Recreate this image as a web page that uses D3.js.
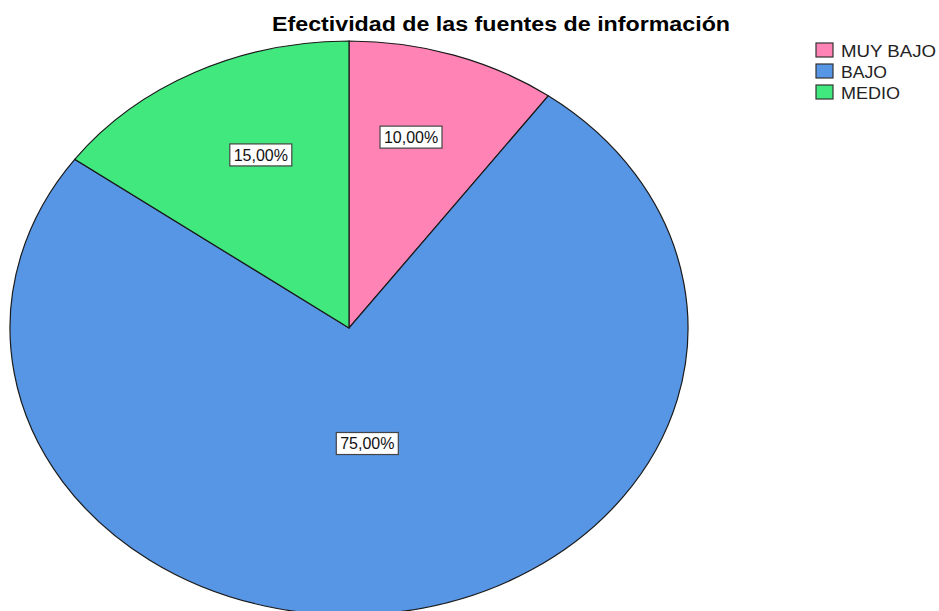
<!DOCTYPE html>
<html>
<head>
<meta charset="utf-8">
<script src="https://cdn.jsdelivr.net/npm/d3@7"></script>
<style>
  body { margin: 0; background: #fff; }
  svg { display: block; font-family: "Liberation Sans", Arial, sans-serif; }
</style>
</head>
<body>
<div id="piechart"></div>
<script>
const width = 939
const height = 611

const categories = ['MUY BAJO', 'BAJO', 'MEDIO']
const percents = [10, 75, 15]
const percentLabels = ['10,00%', '75,00%', '15,00%']
const colors = ['#ff84b5', '#5795e5', '#40e87e']

const cx = 349
const cy = 328
const rx = 339
const ry = 287

const colorScheme = d3.scaleOrdinal().domain(categories).range(colors)

const data = categories.map((c, i) => ({ label: c, value: percents[i], text: percentLabels[i] }))

const svg = d3.select('#piechart')
  .append('svg')
  .attr('width', width)
  .attr('height', height)

svg.append('text')
  .attr('x', 272)
  .attr('y', 31)
  .attr('font-size', 19.5)
  .attr('font-weight', 'bold')
  .attr('textLength', 458)
  .attr('lengthAdjust', 'spacingAndGlyphs')
  .text('Efectividad de las fuentes de información')

const pie = d3.pie()
  .sort(null)
  .value((d) => d.value)

const arc = d3.arc()
  .innerRadius(0)
  .outerRadius(rx)

const pieG = svg.append('g')
  .attr('transform', `translate(${cx}, ${cy}) scale(1, ${ry / rx})`)

const arcs = pie(data)

pieG.selectAll('path.piece')
  .data(arcs)
  .enter()
  .append('path')
  .attr('class', 'piece')
  .attr('d', arc)
  .attr('fill', (d) => colorScheme(d.data.label))
  .attr('stroke', '#1a1a1a')
  .attr('stroke-width', 1.2)
  .attr('vector-effect', 'non-scaling-stroke')

// label radius shrinks for large slices (like SPSS), labels sit on a circle not the ellipse
const labelPos = (d) => {
  const p = d.data.value / 100
  const r = rx * (0.63 - 0.38 * p)
  const a = (d.startAngle + d.endAngle) / 2
  return [cx + r * Math.sin(a), cy - r * Math.cos(a)]
}

const labelG = svg.selectAll('g.label')
  .data(arcs)
  .enter()
  .append('g')
  .attr('class', 'label')
  .attr('transform', (d) => `translate(${labelPos(d)})`)

labelG.append('rect')
  .attr('x', -31)
  .attr('y', -11)
  .attr('width', 62)
  .attr('height', 22)
  .attr('fill', '#fff')
  .attr('stroke', '#444')
  .attr('stroke-width', 1.2)

labelG.append('text')
  .attr('text-anchor', 'middle')
  .attr('dy', '0.36em')
  .attr('font-size', 16)
  .attr('fill', '#111')
  .text((d) => d.data.text)

const legendWidths = [95, 46, 59]

const legend = svg.append('g')
  .attr('transform', 'translate(816, 43)')

const legendItem = legend.selectAll('g.item')
  .data(categories)
  .enter()
  .append('g')
  .attr('class', 'item')
  .attr('transform', (d, i) => `translate(0, ${i * 21})`)

legendItem.append('rect')
  .attr('width', 17)
  .attr('height', 14)
  .attr('fill', (d) => colorScheme(d))
  .attr('stroke', '#333')
  .attr('stroke-width', 1.2)

legendItem.append('text')
  .attr('x', 25)
  .attr('y', 14)
  .attr('font-size', 16)
  .attr('fill', '#222')
  .attr('textLength', (d, i) => legendWidths[i])
  .attr('lengthAdjust', 'spacingAndGlyphs')
  .text((d) => d)
</script>
</body>
</html>
